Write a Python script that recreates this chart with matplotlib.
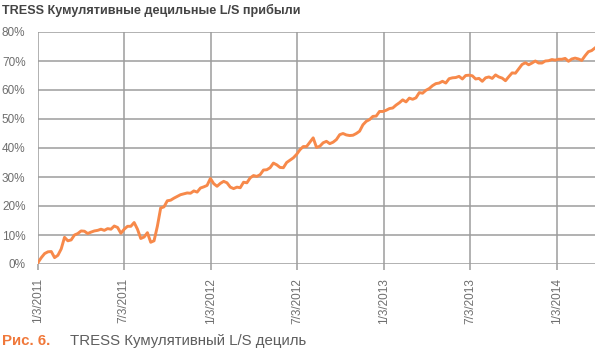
import numpy as np
import pandas as pd
import matplotlib
matplotlib.use('Agg')
import matplotlib.pyplot as plt

# weekly cumulative L/S decile return, %
values = [
    0.5, 2.2, 3.6, 4.2, 4.3, 2.2, 3.0, 5.2, 9.2, 8.0,
    8.3, 10.0, 10.5, 11.4, 11.3, 10.5, 11.0, 11.4, 11.6, 12.0,
    11.6, 12.2, 12.0, 13.1, 12.6, 10.6, 12.0, 13.0, 13.0, 14.3,
    12.0, 8.8, 9.3, 10.8, 7.5, 8.0, 13.0, 19.3, 19.7, 21.8,
    22.0, 22.7, 23.3, 23.9, 24.2, 24.5, 24.4, 25.2, 24.8, 26.2,
    26.6, 27.1, 29.5, 27.7, 26.8, 27.8, 28.5, 28.0, 26.5, 26.0,
    26.5, 26.3, 28.2, 28.0, 29.7, 30.5, 30.2, 30.8, 32.4, 32.5,
    33.2, 34.8, 34.2, 33.3, 33.2, 35.0, 35.8, 36.6, 37.8, 39.4,
    40.5, 40.5, 42.0, 43.5, 40.2, 40.6, 41.8, 42.3, 41.5, 42.0,
    42.9, 44.6, 45.0, 44.5, 44.3, 44.4, 45.0, 45.8, 48.0, 49.2,
    49.8, 50.9, 51.0, 52.6, 52.6, 53.0, 53.6, 53.8, 54.8, 55.6,
    56.6, 55.9, 57.2, 56.8, 57.3, 59.1, 58.9, 59.9, 60.5, 61.5,
    62.2, 62.4, 63.0, 62.4, 63.9, 64.2, 64.3, 64.7, 63.8, 65.0,
    65.1, 64.9, 63.8, 64.0, 63.0, 64.2, 64.5, 64.0, 65.2, 64.5,
    64.1, 63.2, 64.6, 65.9, 65.8, 67.3, 68.8, 69.4, 68.7, 69.3,
    70.0, 69.3, 69.3, 70.0, 70.1, 70.5, 70.3, 70.6, 70.6, 70.9,
    69.9, 70.7, 71.0, 70.7, 70.2, 71.8, 73.2, 73.6, 74.5,
]
dates = pd.date_range('2011-01-03', periods=len(values), freq='7D')

tick_dates = pd.to_datetime(['2011-01-03', '2011-07-03', '2012-01-03', '2012-07-03',
                             '2013-01-03', '2013-07-03', '2014-01-03'])
tick_labels = ['1/3/2011', '7/3/2011', '1/3/2012', '7/3/2012',
               '1/3/2013', '7/3/2013', '1/3/2014']
y_ticks = [0, 10, 20, 30, 40, 50, 60, 70, 80]

plt.rcParams['font.family'] = ['Liberation Sans', 'DejaVu Sans']
grid_col = '#9c9c9c'
text_col = '#6e6e6e'

fig = plt.figure(figsize=(5.95, 3.51), dpi=100)
ax = fig.add_axes([38/595, 1-264/351, 1-38/595, (264-32)/351])

ax.plot(dates, values, color='#F7894A', lw=2.1, solid_joinstyle='round', zorder=3)

ax.set_ylim(0, 80)
ax.set_xlim(dates[0], dates[-1])
ax.set_yticks(y_ticks)
ax.set_yticklabels([f'{v}%' for v in y_ticks], color=text_col, fontsize=8.5)
ax.set_xticks(tick_dates)
ax.set_xticklabels(tick_labels, rotation=90, color=text_col, fontsize=8.5)
ax.tick_params(axis='y', length=0, pad=9)
ax.tick_params(axis='x', length=4, width=1.1, color=grid_col, pad=6)
ax.grid(True, color=grid_col, lw=1.1, zorder=1)
for s in ax.spines.values():
    s.set_visible(False)

fig.text(0.003, 1-10/351, 'TRESS Кумулятивные децильные L/S прибыли',
         fontsize=9.1, fontweight='bold', color='#444444', va='center', ha='left')
fig.text(0.003, 1-341/351, 'Рис. 6.', fontsize=10.8, fontweight='bold',
         color='#F0783A', va='center', ha='left')
fig.text(70/595, 1-341/351, 'TRESS Кумулятивный L/S дециль', fontsize=10.8,
         color='#5e5e5e', va='center', ha='left')

fig.savefig('out.png', dpi=100)
